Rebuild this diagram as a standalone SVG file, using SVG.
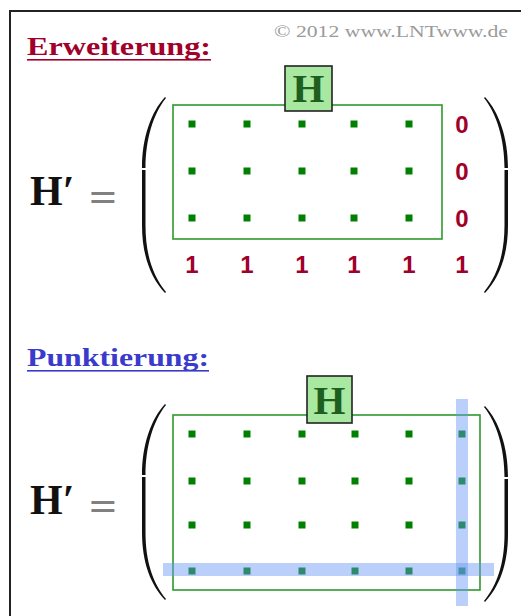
<svg xmlns="http://www.w3.org/2000/svg" width="521" height="616" viewBox="0 0 521 616">
<style>
.frame{fill:none;stroke:#222;stroke-width:2}
.title{font-family:"Liberation Serif",serif;font-weight:bold;font-size:25px}
.copy{font-family:"Liberation Serif",serif;font-size:16px;fill:#9a9a9a}
.hp{font-family:"Liberation Serif",serif;font-weight:bold;font-size:42px;fill:#111}
.eq{font-family:"Liberation Serif",serif;font-weight:bold;font-size:42px;fill:#808080}
.paren{fill:#111}
.grect{fill:none;stroke:#2e9a2e;stroke-width:1.6}
.hbox{fill:#a8e8a0;stroke:#222;stroke-width:1.6}
.htxt{font-family:"Liberation Serif",serif;font-weight:bold;font-size:41px;fill:#1e5e1e;text-anchor:middle}
.dot{fill:#008000}
.num{font-family:"Liberation Sans",Arial,sans-serif;font-weight:bold;font-size:24px;fill:#a0002a;text-anchor:middle}
.band{fill:#6596f4;fill-opacity:0.45}
</style>
<defs>
<rect id="d" x="-3.5" y="-3.5" width="7" height="7" class="dot"/>
<g id="lp">
<path class="paren" d="M165,97 C151,112 142,138 142,168 L145.5,168 C145.5,140 153,114 166,98 Z"/>
<path class="paren" d="M142,170 L142,225 C142,256 151,278 165,293 L166,292 C153,276 145.5,255 145.5,225 L145.5,170 Z"/>
</g>
<g id="rp">
<path class="paren" d="M485,97 C499,112 508,138 508,168 L504.5,168 C504.5,140 497,114 484,98 Z"/>
<path class="paren" d="M508,170 L508,225 C508,256 499,278 485,293 L484,292 C497,276 504.5,255 504.5,225 L504.5,170 Z"/>
</g>
</defs>
<path class="frame" d="M10,616 V11 H521"/>
<text class="copy" x="274" y="37" textLength="234" lengthAdjust="spacingAndGlyphs">© 2012 www.LNTwww.de</text>

<g id="erweiterung">
<text class="title" x="27" y="55" fill="#a0002a" textLength="184" lengthAdjust="spacingAndGlyphs">Erweiterung:</text>
<rect x="27" y="59" width="184" height="1.6" fill="#a0002a"/>
</g>

<g id="matrix1">
<text class="hp" x="30" y="205">H′</text>
<text class="eq" x="89" y="211" textLength="28" lengthAdjust="spacingAndGlyphs">=</text>
<use href="#lp"/>
<use href="#rp"/>
<rect class="grect" x="173" y="105" width="269" height="134"/>
<g id="dots1">
<use href="#d" x="192" y="124"/><use href="#d" x="247" y="124"/><use href="#d" x="302" y="124"/><use href="#d" x="354" y="124"/><use href="#d" x="409" y="124"/>
<use href="#d" x="192" y="171"/><use href="#d" x="247" y="171"/><use href="#d" x="302" y="171"/><use href="#d" x="354" y="171"/><use href="#d" x="409" y="171"/>
<use href="#d" x="192" y="218"/><use href="#d" x="247" y="218"/><use href="#d" x="302" y="218"/><use href="#d" x="354" y="218"/><use href="#d" x="409" y="218"/>
</g>
<g id="zeros">
<text class="num" x="462" y="133">0</text>
<text class="num" x="462" y="180">0</text>
<text class="num" x="462" y="227">0</text>
</g>
<g id="ones">
<text class="num" x="192" y="273">1</text><text class="num" x="247" y="273">1</text><text class="num" x="302" y="273">1</text><text class="num" x="354" y="273">1</text><text class="num" x="409" y="273">1</text><text class="num" x="462" y="273">1</text>
</g>
<g id="hbox1">
<rect class="hbox" x="285" y="66" width="47" height="45"/>
<text class="htxt" x="308.5" y="102">H</text>
</g>
</g>

<g id="punktierung">
<text class="title" x="27" y="366" fill="#3a3acc" textLength="182" lengthAdjust="spacingAndGlyphs">Punktierung:</text>
<rect x="27" y="370" width="182" height="1.6" fill="#3a3acc"/>
</g>

<g id="matrix2">
<text class="hp" x="30" y="514">H′</text>
<text class="eq" x="89" y="520" textLength="28" lengthAdjust="spacingAndGlyphs">=</text>
<use href="#lp" transform="translate(0,307)"/>
<use href="#rp" transform="translate(0,309)"/>
<rect class="grect" x="173" y="415" width="307" height="175"/>
<g id="dots2">
<use href="#d" x="192" y="434"/><use href="#d" x="247" y="434"/><use href="#d" x="302" y="434"/><use href="#d" x="355" y="434"/><use href="#d" x="409" y="434"/><use href="#d" x="462" y="434"/>
<use href="#d" x="192" y="481"/><use href="#d" x="247" y="481"/><use href="#d" x="302" y="481"/><use href="#d" x="355" y="481"/><use href="#d" x="409" y="481"/><use href="#d" x="462" y="481"/>
<use href="#d" x="192" y="525"/><use href="#d" x="247" y="525"/><use href="#d" x="302" y="525"/><use href="#d" x="355" y="525"/><use href="#d" x="409" y="525"/><use href="#d" x="462" y="525"/>
<use href="#d" x="192" y="571"/><use href="#d" x="247" y="571"/><use href="#d" x="302" y="571"/><use href="#d" x="355" y="571"/><use href="#d" x="409" y="571"/><use href="#d" x="462" y="571"/>
</g>
<g id="bands">
<rect class="band" x="456" y="399" width="12" height="207"/>
<rect class="band" x="163" y="563" width="331" height="13"/>
</g>
<g id="hbox2">
<rect class="hbox" x="307" y="376" width="45" height="47"/>
<text class="htxt" x="329.5" y="414">H</text>
</g>
</g>
</svg>
